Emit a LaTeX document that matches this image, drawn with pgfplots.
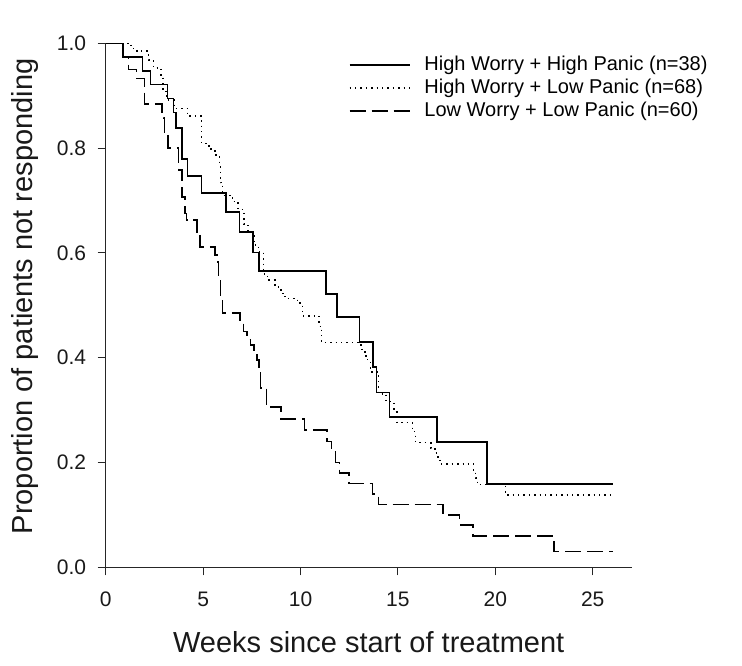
\documentclass[border=0pt]{standalone}
\usepackage{pgfplots}
\pgfplotsset{compat=1.18}
\usepackage{fontspec}
\setmainfont{Liberation Sans}

\begin{document}
\begin{tikzpicture}
\useasboundingbox (0pt,0pt) rectangle (742pt,-666pt);
\begin{axis}[
    at={(105.7pt,-567.3pt)}, anchor=south west,
    scale only axis,
    width=526pt, height=524pt,
    xmin=0, xmax=27,
    ymin=0, ymax=1,
    clip=false,
    axis x line*=bottom,
    axis y line*=left,
    axis line style={black!85, line width=0.9pt},
    tick style={black!85, line width=0.9pt},
    tick align=outside,
    major tick length=8pt,
    xtick={0,5,...,25},
    ytick={0,0.2,0.4,0.6,0.8,1.0},
    /pgf/number format/assume math mode=true,
    yticklabel style={/pgf/number format/fixed, /pgf/number format/fixed zerofill,
        /pgf/number format/precision=1, xshift=-8pt},
    tick label style={font=\fontsize{21}{24}\selectfont, black!90},
    xticklabel style={yshift=-13pt},
    label style={font=\fontsize{29}{33}\selectfont, black!90},
    xlabel={Weeks since start of treatment},
    ylabel={Proportion of patients not responding},
    xlabel style={at={(axis description cs:0.5,-0.1426)}, anchor=center},
    ylabel style={at={(axis description cs:-0.153,0.517)}, anchor=center},
    legend image code/.code={\draw[#1] plot coordinates {(0pt,0pt) (30pt,0pt) (60pt,0pt)};},
    legend cell align=left,
    legend style={at={(axis description cs:0.462,0.977)}, anchor=north west,
        draw=none, fill=none, inner sep=0pt, row sep=4pt,
        font=\fontsize{20}{22}\selectfont,
        nodes={inner sep=0pt, text height=14.5pt, text depth=4.5pt},
        /tikz/every odd column/.style={column sep=14pt}},
]
\addplot[const plot, black, line width=1.5pt] coordinates {
(0,1.0) (0.90,0.974) (1.90,0.947) (2.31,0.921) (3.17,0.895) (3.47,0.868)
(3.60,0.838) (3.91,0.779) (4.21,0.747) (4.93,0.714) (6.17,0.678) (6.87,0.640)
(7.55,0.601) (7.88,0.565) (11.31,0.522) (11.87,0.478) (13.03,0.430) (13.72,0.382)
(13.89,0.334) (14.57,0.287) (17.01,0.239) (19.58,0.159) (26.03,0.159)
};
\addlegendentry{High Worry + High Panic (n=38)}
\addplot[const plot, black, line width=1.5pt, dash pattern=on 1.4pt off 4pt] coordinates {
(0,1.0) (1.3,0.99) (1.6,0.985) (2.2,0.968) (2.45,0.953) (2.85,0.935) (2.95,0.908)
(3.15,0.892) (3.5,0.876) (4.2,0.861) (4.92,0.809) (5.3,0.798) (5.6,0.787)
(5.85,0.765) (5.88,0.734) (6.0,0.71) (6.5,0.698) (6.8,0.683) (7.1,0.655)
(7.3,0.640) (7.6,0.615) (7.84,0.602) (8.1,0.56) (8.3,0.548) (8.7,0.535)
(9.0,0.523) (9.2,0.513) (9.85,0.504) (10.1,0.48) (10.95,0.46) (11.08,0.429)
(13.1,0.416) (13.3,0.403) (13.45,0.392) (13.58,0.373) (14.0,0.331) (14.4,0.316)
(14.8,0.296) (14.95,0.276) (15.75,0.259) (15.9,0.238) (16.7,0.227) (16.9,0.218)
(17.05,0.208) (17.15,0.197) (18.88,0.182) (18.98,0.170) (19.08,0.158)
(20.53,0.138) (25.9,0.138)
};
\addlegendentry{High Worry + Low Panic (n=68)}
\addplot[const plot, black, line width=1.5pt, dash pattern=on 16pt off 6pt] coordinates {
(0,1.0) (0.9,0.975) (1.16,0.950) (1.59,0.933) (1.98,0.884) (2.88,0.866)
(2.96,0.857) (3.01,0.831) (3.2,0.80) (3.73,0.758) (3.91,0.707) (4.07,0.675)
(4.16,0.663) (4.68,0.640) (4.85,0.611) (5.62,0.596) (5.74,0.583) (5.80,0.555)
(5.90,0.510) (6.0,0.485) (6.90,0.466) (7.07,0.450) (7.25,0.435) (7.42,0.424)
(7.6,0.41) (7.76,0.396) (7.88,0.377) (7.95,0.342) (8.25,0.306) (9.0,0.283)
(10.2,0.262) (11.35,0.24) (11.6,0.22) (11.8,0.20) (12.0,0.18) (12.5,0.16)
(13.7,0.14) (14.0,0.12) (17.32,0.100) (18.17,0.081) (18.86,0.060)
(23.0,0.030) (26.03,0.030)
};
\addlegendentry{Low Worry + Low Panic (n=60)}
\end{axis}
\end{tikzpicture}
\end{document}
